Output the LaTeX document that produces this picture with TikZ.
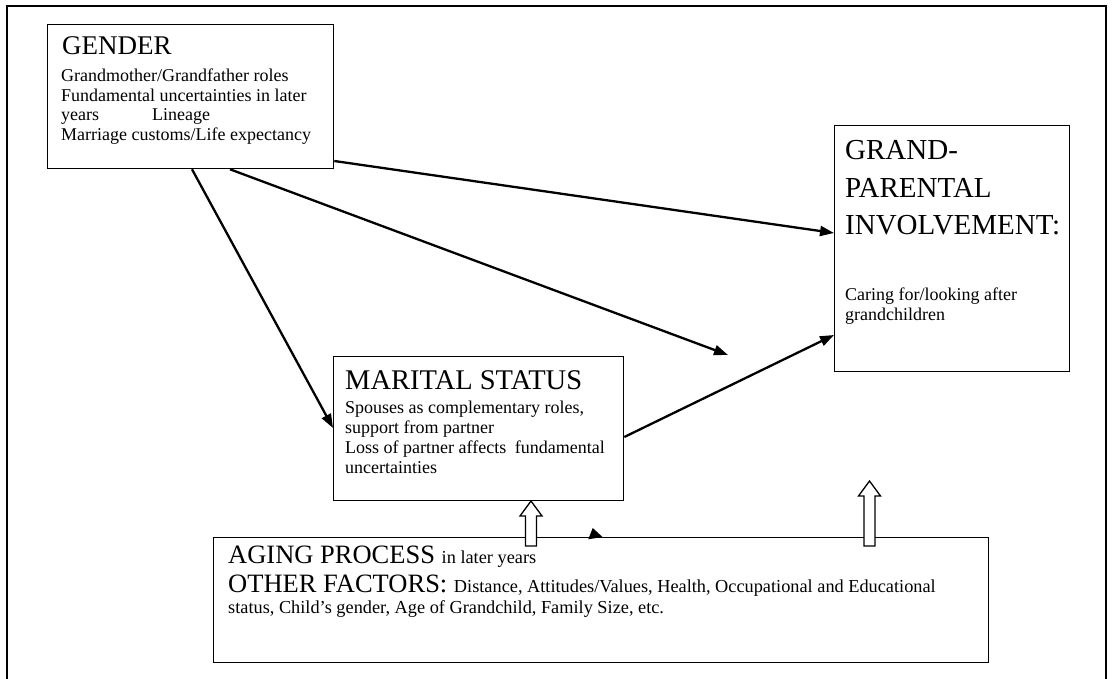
\documentclass[tikz,border=0pt]{standalone}
\usepackage{fontspec}
\setmainfont{Liberation Serif}
\usetikzlibrary{arrows.meta,calc}
\tikzset{
  box/.style={draw, line width=1.3pt, anchor=north west, inner sep=0pt},
  txt/.style={anchor=base west, inner sep=0pt, font=\fontsize{18}{20}\selectfont},
  head/.style={anchor=base west, inner sep=0pt, font=\fontsize{#1}{#1}\selectfont},
  conn/.style={line width=2.3pt, -{Triangle[length=14pt,width=10pt]}},
  frame/.style={line width=2pt},
  hollow/.style={draw, fill=white, line width=1.3pt, line join=miter}
}
\begin{document}
\begin{tikzpicture}[x=1pt,y=-1pt]
\useasboundingbox (0,0) rectangle (1113,679);
\fill[white] (0,0) rectangle (1113,679);
\draw[frame] (7,700) -- (7,6) -- (1106,6) -- (1106,700);

% boxes
\node[box, minimum width=286pt, minimum height=144pt] (gender) at (47,24) {};
\node[box, minimum width=290pt, minimum height=144pt] (marital) at (333,356) {};
\node[box, minimum width=235pt, minimum height=246pt] (grand) at (834,125) {};
\node[box, minimum width=775pt, minimum height=125pt] (aging) at (213,537) {};

% GENDER text
\node[head=27] (gt) at (62,55) {GENDER};
\node[txt] (g1) at (61,82) {Grandmother/Grandfather roles};
\node[txt] (g2) at (61,101.5) {Fundamental uncertainties in later};
\node[txt] (g3) at (61,121) {years};
\node[txt] (g3b) at (152,121) {Lineage};
\node[txt] (g4) at (61,140.5) {Marriage customs/Life expectancy};

% MARITAL text
\node[head=28.5] (mt) at (345,389) {MARITAL STATUS};
\node[txt] (m1) at (345,413) {Spouses as complementary roles,};
\node[txt] (m2) at (345,433) {support from partner};
\node[txt] (m3) at (345,453) {Loss of partner affects\hspace{4pt} fundamental};
\node[txt] (m4) at (345,473) {uncertainties};

% GRAND text
\node[head=29] (pt1) at (845,160) {GRAND-};
\node[head=29] (pt2) at (845,197) {PARENTAL};
\node[head=29] (pt3) at (845,234) {INVOLVEMENT:};
\node[txt] (p1) at (845,300) {Caring for/looking after};
\node[txt] (p2) at (845,320) {grandchildren};

% AGING text
\node[anchor=base west, inner sep=0pt] (a1) at (228,563)
  {\fontsize{26.5}{26.5}\selectfont AGING PROCESS \fontsize{18.3}{20}\selectfont in later years};
\node[anchor=base west, inner sep=0pt] (a2) at (228,592)
  {\fontsize{26.5}{26.5}\selectfont OTHER FACTORS: \fontsize{18.3}{20}\selectfont Distance, Attitudes/Values, Health, Occupational and Educational};
\node[anchor=base west, inner sep=0pt, font=\fontsize{18.3}{20}\selectfont] (a3) at (228,613) {status, Child’s gender, Age of Grandchild, Family Size, etc.};

% connectors
\coordinate (mid) at (728,355);
\draw[conn] ([xshift=145pt]gender.south west) -- (marital.west |- 0,428);
\draw[conn] ([xshift=183pt]gender.south west) -- (mid);
\draw[conn] (gender.east |- 0,161) -- (grand.west |- 0,233);
\draw[conn] (marital.east |- 0,437) -- (grand.west |- 0,335);

% hollow arrows
\draw[hollow] (525.5,546) -- (525.5,516) -- (520,516) -- (531,501) -- (542,516) -- (536.5,516) -- (536.5,546) -- cycle;
\draw[hollow] (864,546) -- (864,496) -- (858.5,496) -- (869.5,481) -- (880.5,496) -- (875,496) -- (875,546) -- cycle;

% small triangle on the top line
\fill (588.3,539.3) -- (592.7,528) -- (602.5,537) -- cycle;
\end{tikzpicture}
\end{document}
